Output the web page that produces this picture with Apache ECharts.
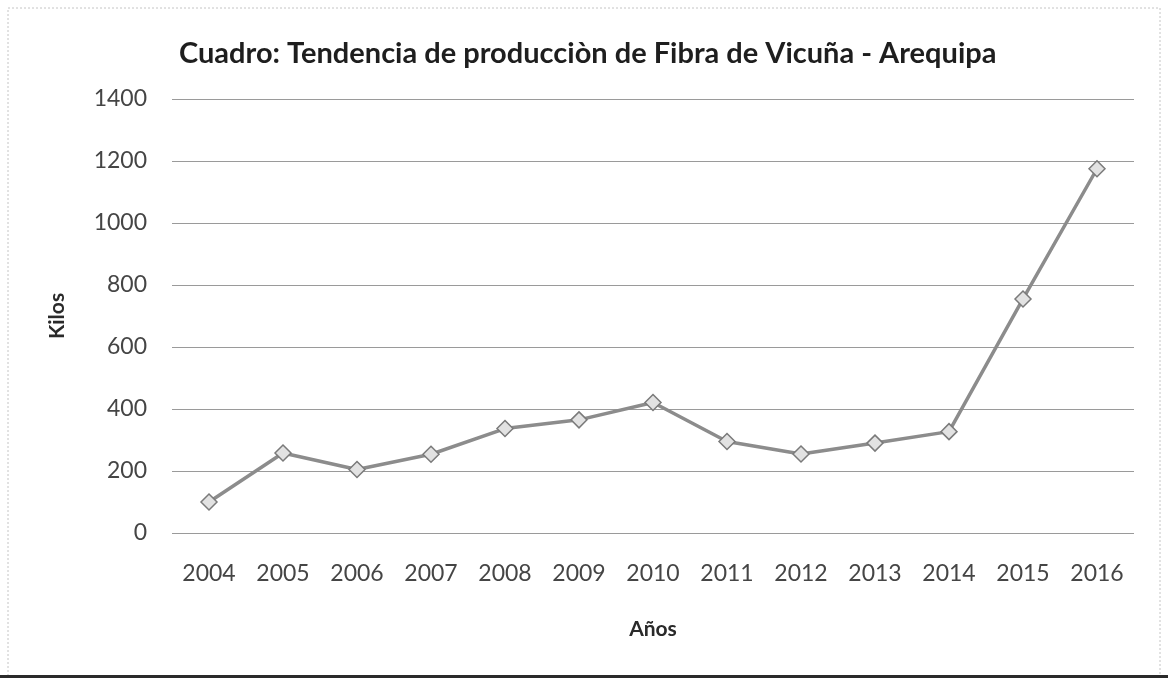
<!DOCTYPE html>
<html>
<head>
<meta charset="utf-8">
<script src="https://cdn.jsdelivr.net/npm/echarts@6/dist/echarts.min.js"></script>
<style>
html,body{margin:0;padding:0;background:#fff;}
#chart{width:1168px;height:683px;}
</style>
</head>
<body>
<div id="chart"></div>
<script>
var years = ['2004','2005','2006','2007','2008','2009','2010','2011','2012','2013','2014','2015','2016'];
var kilos = [100, 258, 205, 254, 337, 365, 421, 295, 255, 290, 327, 755, 1175];
var titleText = 'Cuadro: Tendencia de producciòn de Fibra de Vicuña - Arequipa';
var xName = 'Años';
var yName = 'Kilos';

var chart = echarts.init(document.getElementById('chart'), null, {renderer: 'canvas'});
var fontFam = 'Lato, "Open Sans", sans-serif';
chart.setOption({
  backgroundColor: '#ffffff',
  animation: false,
  title: {
    text: titleText,
    left: 174,
    top: 31,
    textStyle: {fontFamily: fontFam, fontWeight: 'bold', fontSize: 29, color: '#1e1e1e', lineHeight: 36}
  },
  grid: {left: 172, right: 34, top: 99, bottom: 150},
  xAxis: {
    type: 'category',
    data: years,
    boundaryGap: true,
    name: xName,
    nameLocation: 'middle',
    nameGap: 86,
    nameTextStyle: {fontFamily: fontFam, fontWeight: 'bold', fontSize: 21, color: '#2a2a2a'},
    axisLine: {show: false},
    axisTick: {show: false},
    axisLabel: {fontFamily: fontFam, fontSize: 23, color: '#454545', margin: 29}
  },
  yAxis: {
    type: 'value',
    min: 0,
    max: 1400,
    interval: 200,
    name: yName,
    nameLocation: 'middle',
    nameGap: 104,
    nameRotate: 90,
    nameTextStyle: {fontFamily: fontFam, fontWeight: 'bold', fontSize: 21, color: '#2a2a2a'},
    axisLine: {show: false},
    axisTick: {show: false},
    axisLabel: {fontFamily: fontFam, fontSize: 23, color: '#454545', margin: 25,
      formatter: function (v) { return String(v); }},
    splitLine: {lineStyle: {color: '#9a9a9a', width: 1}}
  },
  series: [{
    type: 'line',
    data: kilos,
    symbol: 'diamond',
    symbolSize: 16,
    lineStyle: {color: '#8c8c8c', width: 3.5},
    itemStyle: {color: '#e2e2e2', borderColor: '#7a7a7a', borderWidth: 1.5},
    z: 3
  }],
  graphic: [
    {type: 'rect', shape: {x: 8, y: 8, width: 1152, height: 668}, style: {fill: 'none', stroke: '#c4c4c4', lineWidth: 1, lineDash: [2, 2]}, silent: true, z: -1},
    {type: 'rect', shape: {x: 0, y: 675, width: 1168, height: 3}, style: {fill: '#2a2a2a'}, silent: true}
  ]
});
</script>
</body>
</html>
